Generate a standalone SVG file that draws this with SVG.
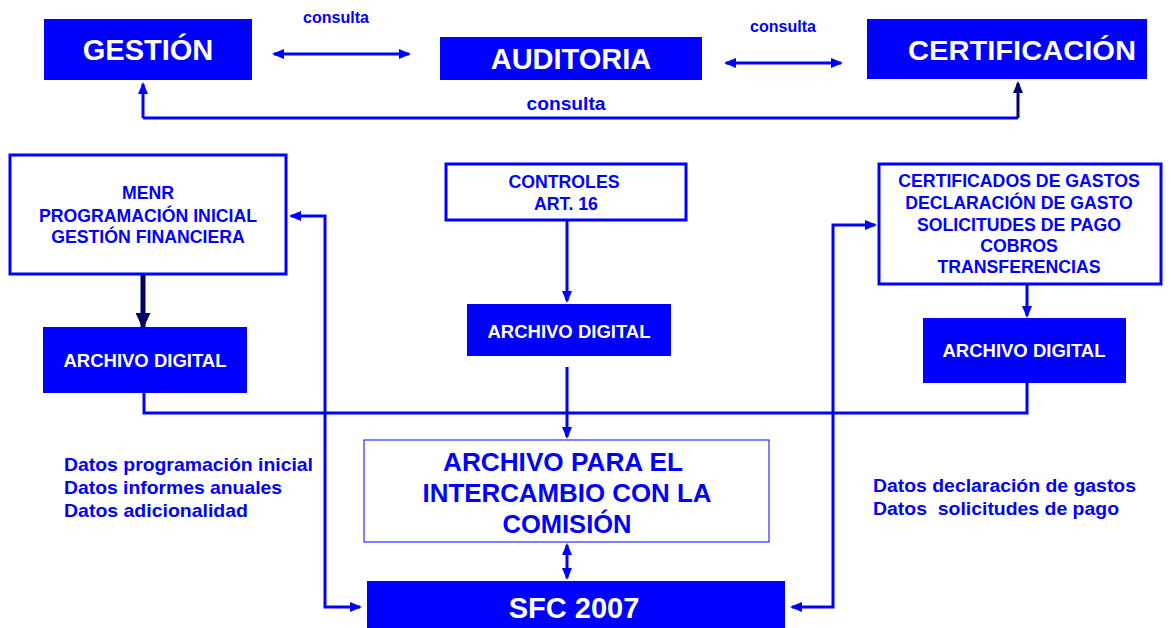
<svg xmlns="http://www.w3.org/2000/svg" width="1171" height="628" viewBox="0 0 1171 628">
<style>
text{font-family:"Liberation Sans",Arial,sans-serif;font-weight:bold;text-anchor:middle}
.fill{fill:#0000FF}
.wt{fill:#FFFFFF}
.bt{fill:#0000FF}
.ob{fill:#FFFFFF;stroke:#0000FF;stroke-width:3}
.thin{fill:#FFFFFF;stroke:#0000FF;stroke-width:1}
.c{fill:none;stroke:#0000FF;stroke-width:3}
.cd{fill:none;stroke:#000066;stroke-width:3}
.lt{text-anchor:start}
.bx{font-size:17.7px}
.ad{font-size:18.5px}
.pre{white-space:pre}
</style>
<defs>
<marker id="a" markerWidth="12" markerHeight="10" refX="10" refY="5" orient="auto-start-reverse" markerUnits="userSpaceOnUse"><path d="M0,0 L12,5 L0,10 Z" fill="#0000FF"/></marker>
<marker id="ad" markerWidth="12" markerHeight="10" refX="10" refY="5" orient="auto-start-reverse" markerUnits="userSpaceOnUse"><path d="M0,0 L12,5 L0,10 Z" fill="#000066"/></marker>
<marker id="adb" markerWidth="16" markerHeight="15" refX="14" refY="7.5" orient="auto" markerUnits="userSpaceOnUse"><path d="M0,0 L16,7.5 L0,15 Z" fill="#000066"/></marker>
</defs>
<g id="connectors">
<line class="c" x1="274" y1="54" x2="409" y2="54" marker-start="url(#a)" marker-end="url(#a)"/>
<line class="c" x1="726" y1="63" x2="841" y2="63" marker-start="url(#a)" marker-end="url(#a)"/>
<polyline class="c" points="143,118 143,84" marker-end="url(#a)"/>
<line class="c" x1="143" y1="118" x2="1018" y2="118"/>
<polyline class="cd" points="1018,118 1018,83" marker-end="url(#ad)"/>
<line x1="143" y1="275" x2="143" y2="327" stroke="#000066" stroke-width="5" marker-end="url(#adb)"/>
<polyline class="c" points="360,607 325,607 325,216 291,216" marker-start="url(#a)" marker-end="url(#a)"/>
<line class="c" x1="567" y1="221" x2="567" y2="301" marker-end="url(#a)"/>
<line class="c" x1="567" y1="367" x2="567" y2="437" marker-end="url(#a)"/>
<polyline class="c" points="144,393 144,413 1027,413 1027,383"/>
<line class="c" x1="1027" y1="285" x2="1027" y2="316" marker-end="url(#a)"/>
<polyline class="c" points="875,225 833,225 833,607 792,607" marker-start="url(#a)" marker-end="url(#a)"/>
<line class="c" x1="567" y1="545" x2="567" y2="578" marker-start="url(#a)" marker-end="url(#a)"/>
<text class="bt" x="336" y="23" font-size="16">consulta</text>
<text class="bt" x="783" y="32" font-size="16">consulta</text>
<text class="bt" x="566" y="110" font-size="18" textLength="79" lengthAdjust="spacingAndGlyphs">consulta</text>
</g>
<g id="gestion">
<rect class="fill" x="44" y="19" width="208" height="61"/>
<text class="wt" x="148" y="60" font-size="29">GESTIÓN</text>
</g>
<g id="auditoria">
<rect class="fill" x="440" y="37" width="262" height="43"/>
<text class="wt" x="571" y="69" font-size="29">AUDITORIA</text>
</g>
<g id="certificacion">
<rect class="fill" x="867" y="19" width="280" height="60"/>
<text class="wt" x="1022" y="60" font-size="28.5" textLength="228" lengthAdjust="spacingAndGlyphs">CERTIFICACIÓN</text>
</g>
<g id="menr">
<rect class="ob" x="10" y="155" width="276" height="119"/>
<text class="bt bx" x="148" y="199">MENR</text>
<text class="bt bx" x="148" y="222">PROGRAMACIÓN INICIAL</text>
<text class="bt bx" x="148" y="243">GESTIÓN FINANCIERA</text>
</g>
<g id="archivo-digital-left">
<rect class="fill" x="43" y="327" width="204" height="66"/>
<text class="wt ad" x="145" y="367">ARCHIVO DIGITAL</text>
</g>
<g id="controles">
<rect class="ob" x="446" y="164" width="240" height="56"/>
<text class="bt bx" x="564" y="188">CONTROLES</text>
<text class="bt bx" x="566" y="210">ART. 16</text>
</g>
<g id="archivo-digital-center">
<rect class="fill" x="467" y="304" width="204" height="52"/>
<text class="wt ad" x="569" y="338">ARCHIVO DIGITAL</text>
</g>
<g id="certificados">
<rect class="ob" x="879" y="164" width="282" height="120"/>
<text class="bt bx" x="1019" y="187">CERTIFICADOS DE GASTOS</text>
<text class="bt bx" x="1019" y="209">DECLARACIÓN DE GASTO</text>
<text class="bt bx" x="1019" y="231">SOLICITUDES DE PAGO</text>
<text class="bt bx" x="1019" y="252">COBROS</text>
<text class="bt bx" x="1019" y="273">TRANSFERENCIAS</text>
</g>
<g id="archivo-digital-right">
<rect class="fill" x="923" y="318" width="203" height="65"/>
<text class="wt ad" x="1024" y="357">ARCHIVO DIGITAL</text>
</g>
<g id="archivo-intercambio">
<rect class="thin" x="364" y="440" width="405" height="102"/>
<text class="bt" x="563" y="471" font-size="26.5" textLength="240" lengthAdjust="spacingAndGlyphs">ARCHIVO PARA EL</text>
<text class="bt" x="567" y="502" font-size="26.5" textLength="289" lengthAdjust="spacingAndGlyphs">INTERCAMBIO CON LA</text>
<text class="bt" x="567" y="533" font-size="26.5" textLength="129" lengthAdjust="spacingAndGlyphs">COMISIÓN</text>
</g>
<g id="sfc">
<rect class="fill" x="367" y="581" width="418" height="47"/>
<text class="wt" x="574" y="618" font-size="29">SFC 2007</text>
</g>
<g id="datos-left">
<text class="bt lt" x="64" y="471" font-size="18.5" textLength="249" lengthAdjust="spacingAndGlyphs">Datos programación inicial</text>
<text class="bt lt" x="64" y="494" font-size="18.5" textLength="218" lengthAdjust="spacingAndGlyphs">Datos informes anuales</text>
<text class="bt lt" x="64" y="517" font-size="18.5" textLength="184" lengthAdjust="spacingAndGlyphs">Datos adicionalidad</text>
</g>
<g id="datos-right">
<text class="bt lt" x="873" y="492" font-size="17.5" textLength="263" lengthAdjust="spacingAndGlyphs">Datos declaración de gastos</text>
<text class="bt lt pre" x="873" y="515" font-size="17.5" textLength="246" lengthAdjust="spacingAndGlyphs">Datos  solicitudes de pago</text>
</g>
</svg>
